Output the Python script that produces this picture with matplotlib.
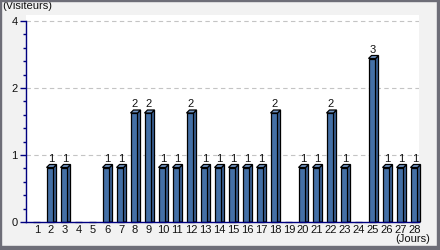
import numpy as np
import matplotlib.pyplot as plt
from matplotlib.patches import Polygon, Rectangle

days = list(range(1, 29))
visitors = [0, 1, 1, 0, 0, 1, 1, 2, 2, 1, 1, 2, 1, 1, 1, 1, 1, 2, 0, 1, 1, 2, 1, 0, 3, 1, 1, 1]
y_tick_labels = ['0', '1', '2', '4']
y_top = 3.69  # value of the top grid line on the bar scale

plt.rcParams['font.family'] = ['Liberation Sans', 'DejaVu Sans']
fs = 8

W, H = 440, 250
fig = plt.figure(figsize=(W / 100, H / 100), dpi=100, facecolor='#f2f2f2')
ax = fig.add_axes([26 / W, 28 / H, 393 / W, 207 / H])
ax.set_facecolor('white')

# 3D-looking bars
front_l, front_r = -0.32, 0.18
dx, dy = 0.214, 0.055
face = '#4470a6'
side = '#3a6195'
top = '#7397c6'

x = np.array(days)
ax.bar(x + (front_l + front_r) / 2, visitors, width=front_r - front_l,
       color=face, edgecolor='black', linewidth=0.9, zorder=3, clip_on=False)
for d, v in zip(days, visitors):
    if v <= 0:
        continue
    ax.add_patch(Polygon([(d + front_r, 0), (d + front_r + dx, 0),
                          (d + front_r + dx, v + dy), (d + front_r, v)],
                         closed=True, facecolor=side, edgecolor='black',
                         linewidth=0.9, zorder=3, clip_on=False))
    ax.add_patch(Polygon([(d + front_l, v), (d + front_l + dx, v + dy),
                          (d + front_r + dx, v + dy), (d + front_r, v)],
                         closed=True, facecolor=top, edgecolor='black',
                         linewidth=0.9, zorder=3, clip_on=False))
    ax.text(d, v + 0.11, str(v), ha='center', va='baseline', fontsize=fs,
            color='#111111', zorder=4)

ax.set_xlim(1 - 11 / 14, 1 - 11 / 14 + 393 / 14)
ax.set_ylim(0, 207 / 54.5)

ax.set_xticks(days, [str(d) for d in days])
ax.tick_params(axis='x', length=0, pad=2.5, labelsize=fs, colors='#111111')
ax.set_yticks(np.linspace(0, y_top, 4), y_tick_labels)
ax.set_yticks(np.linspace(0, y_top, 16), minor=True)
ax.tick_params(axis='y', which='major', length=4, width=1, color='#000080',
               pad=2, labelsize=fs, labelcolor='#111111')
ax.tick_params(axis='y', which='minor', length=2.5, width=1, color='#000080')

for g in np.linspace(0, y_top, 4)[1:]:
    ax.axhline(g, color='#c4c4c4', linewidth=0.8, linestyle=(0, (4, 3)), zorder=1)

for s in ['top', 'right']:
    ax.spines[s].set_visible(False)
for s in ['left', 'bottom']:
    ax.spines[s].set_color('#000080')
    ax.spines[s].set_linewidth(1)
    ax.spines[s].set_zorder(5)
ax.spines['left'].set_bounds(0, y_top)

fig.text(2 / W, 1 - 6 / H, '(Visiteurs)', ha='left', va='center', fontsize=fs, color='#111111')
fig.text(430 / W, 1 - 239 / H, '(Jours)', ha='right', va='center', fontsize=fs, color='#111111')

# outer frame with heavier right/bottom edge
border = '#6e6e78'
fig.patches.extend([
    Rectangle((0, 0), 1 / W, 1, transform=fig.transFigure, color=border, zorder=10),
    Rectangle((0, 1 - 1 / H), 1, 1 / H, transform=fig.transFigure, color=border, zorder=10),
    Rectangle((1 - 3 / W, 0), 3 / W, 1, transform=fig.transFigure, color=border, zorder=10),
    Rectangle((0, 0), 1, 4 / H, transform=fig.transFigure, color=border, zorder=10),
])

fig.savefig('out.png', dpi=100, facecolor=fig.get_facecolor())
